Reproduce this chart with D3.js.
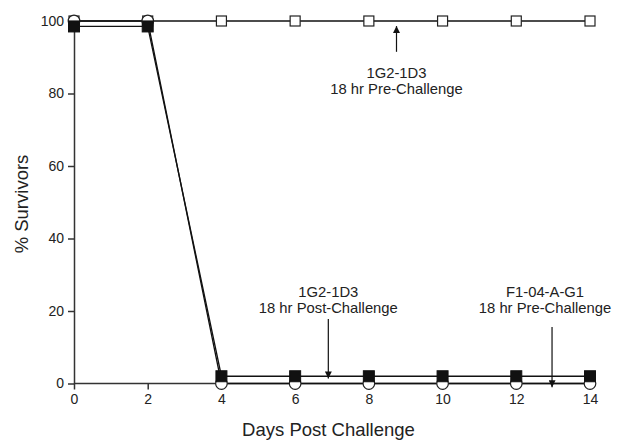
<!DOCTYPE html>
<html>
<head>
<meta charset="utf-8">
<script src="https://cdn.jsdelivr.net/npm/d3@7"></script>
<style>
  body { margin: 0; background: #fff; }
  text { font-family: Arial, "Liberation Sans", sans-serif; fill: #222; }
</style>
</head>
<body>
<div id="chart"></div>
<script>
// days post challenge
const days = [0, 2, 4, 6, 8, 10, 12, 14];
// % survivors per group
const preChallengeOpenSquares = [100, 100, 100, 100, 100, 100, 100, 100];
const openCircles = [100, 100, 0, 0, 0, 0, 0, 0];
const filledSquares = [98.5, 98.5, 2, 2, 2, 2, 2, 2];

const xTicks = [0, 2, 4, 6, 8, 10, 12, 14];
const yTicks = [0, 20, 40, 60, 80, 100];

// annotation arrows: x in days, arrow from tail to tip in % units
const notes = [
  {x: 8.75, tail: 91.5, tip: 98.6, textX: 8.75, textY: 84.4, lines: ["1G2-1D3", "18 hr Pre-Challenge"]},
  {x: 6.9, tail: 17.8, tip: 1.4, textX: 6.9, textY: 24.0, lines: ["1G2-1D3", "18 hr Post-Challenge"]},
  {x: 12.97, tail: 15.6, tip: -1.0, textX: 12.78, textY: 24.0, lines: ["F1-04-A-G1", "18 hr Pre-Challenge"]}
];

const width = 620, height = 441;

const svg = d3.select("#chart").append("svg")
    .attr("width", width)
    .attr("height", height);

const x = d3.scaleLinear().domain([0, 14]).range([74, 590]);
const y = d3.scaleLinear().domain([0, 100]).range([383.5, 21]);

svg.append("defs").append("marker")
    .attr("id", "head")
    .attr("viewBox", "0 0 10 10")
    .attr("refX", 10).attr("refY", 5)
    .attr("markerWidth", 9).attr("markerHeight", 7)
    .attr("markerUnits", "userSpaceOnUse")
    .attr("orient", "auto")
  .append("path")
    .attr("d", "M0,0 L10,5 L0,10 Z")
    .attr("fill", "#111");

// axes
const xAxis = svg.append("g")
    .attr("transform", "translate(0," + y(0) + ")")
    .call(d3.axisBottom(x).tickValues(xTicks).tickSize(6).tickPadding(5).tickSizeOuter(0));
xAxis.select(".domain").attr("d", "M" + x(0) + ",0H" + (x(14) + 5));

const yAxis = svg.append("g")
    .attr("transform", "translate(" + x(0) + ",0)")
    .call(d3.axisLeft(y).tickValues(yTicks).tickSize(6).tickPadding(4).tickSizeOuter(0));

svg.selectAll(".tick text").attr("font-size", 14).attr("fill", "#222");
svg.selectAll(".domain, .tick line").attr("stroke", "#333").attr("stroke-width", 1.5);

svg.append("text")
    .attr("x", 328.5).attr("y", 436)
    .attr("text-anchor", "middle")
    .attr("font-size", 18.5)
    .text("Days Post Challenge");

svg.append("text")
    .attr("transform", "translate(28,204) rotate(-90)")
    .attr("text-anchor", "middle")
    .attr("font-size", 18.5)
    .text("% Survivors");

const line = d3.line().x(d => x(d[0])).y(d => y(d[1]));

function series(vals) {
  return days.map((d, i) => [d, vals[i]]);
}

const sq = series(preChallengeOpenSquares);
const ci = series(openCircles);
const fs = series(filledSquares);

[sq, ci, fs].forEach(s => {
  svg.append("path")
      .datum(s)
      .attr("d", line)
      .attr("fill", "none")
      .attr("stroke", "#111")
      .attr("stroke-width", 1.3);
});

// open squares
svg.selectAll(".osq").data(sq).join("rect")
    .attr("x", d => x(d[0]) - 5).attr("y", d => y(d[1]) - 5)
    .attr("width", 10).attr("height", 10)
    .attr("fill", "#fff").attr("stroke", "#222").attr("stroke-width", 1.2);

// open circles
svg.selectAll(".oc").data(ci).join("circle")
    .attr("cx", d => x(d[0])).attr("cy", d => y(d[1]))
    .attr("r", 5.8)
    .attr("fill", "#fff").attr("stroke", "#222").attr("stroke-width", 1.2);

// filled squares
svg.selectAll(".fsq").data(fs).join("rect")
    .attr("x", d => x(d[0]) - 5.5).attr("y", d => y(d[1]) - 5.5)
    .attr("width", 11).attr("height", 11)
    .attr("fill", "#111").attr("stroke", "#111").attr("stroke-width", 1);

// annotations
notes.forEach(n => {
  svg.append("line")
      .attr("x1", x(n.x)).attr("x2", x(n.x))
      .attr("y1", y(n.tail)).attr("y2", y(n.tip))
      .attr("stroke", "#111").attr("stroke-width", 1.2)
      .attr("marker-end", "url(#head)");
  const t = svg.append("text")
      .attr("x", x(n.textX)).attr("y", y(n.textY))
      .attr("text-anchor", "middle")
      .attr("font-size", 14.8);
  n.lines.forEach((l, i) => {
    t.append("tspan").attr("x", x(n.textX)).attr("dy", i ? 16.5 : 0).text(l);
  });
});
</script>
</body>
</html>
